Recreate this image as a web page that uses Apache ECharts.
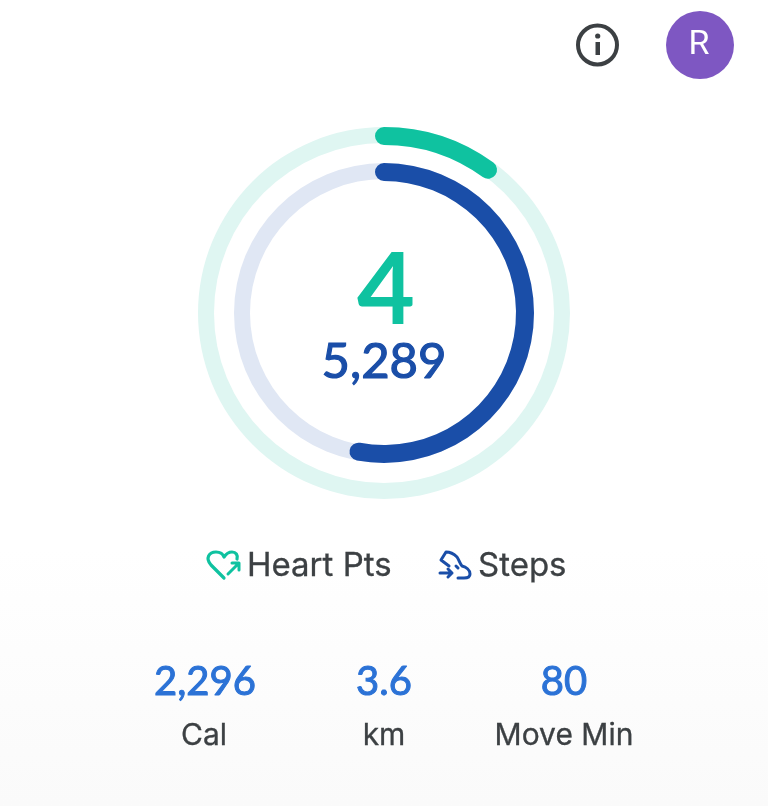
<!DOCTYPE html>
<html><head><meta charset="utf-8">
<style>html,body{margin:0;padding:0;background:#fff}#c{width:768px;height:806px}</style>
<script src="https://cdn.jsdelivr.net/npm/echarts@6/dist/echarts.min.js"></script>
</head><body><div id="c"></div>
<script>
const ringNames = ['Heart Pts', 'Steps'];
const ringValues = [4, 5289];
const ringGoals = [40, 10000];
const statValues = ['2,296', '3.6', '80'];
const statLabels = ['Cal', 'km', 'Move Min'];
const avatarLetter = 'R';

const FONT = 'Lato, "Open Sans", sans-serif';
const LABEL = 'Inter, Roboto, sans-serif';
const TEAL = '#0fc2a0', TEALT = '#dff6f2', BLUE = '#1a4ea8', BLUET = '#e0e7f4', INK = '#3c4043', STAT = '#2b72d6';
const statX = [205, 384, 564];

const icons = {
  heartOutline: 'M224 578 L211 565 C205 558 209 552 216 552 C220 552 223 554 224 557 C226 554 229 552 232 552 C236 552 238 555 237 559',
  heartArrow: 'M228 574 L238 564 M232 563 L239 563 L239 570',
  stepsOutline: 'M449 566 L441 560 L446 552 C450 552 454 554 457 557 C459 560 460 564 462 566 C466 567 470 570 470 574 C470 577 467 578 464 578 L458 578 M456 566 L458 568',
  stepsArrow: 'M440 573 L452 573 M448 569 L452 573 L448 577'
};
Object.keys(icons).forEach(k => echarts.graphic.registerShape(k, echarts.graphic.extendPath(icons[k], {})));

function ring(i, radius, trackW, progW, color, track, detail) {
  return {
    type: 'gauge', center: [384, 313], radius: radius, min: 0, max: ringGoals[i],
    startAngle: 90, endAngle: -270, clockwise: true, silent: true, z: 2 + i,
    axisLine: { roundCap: false, lineStyle: { width: trackW, color: [[1, track]] } },
    progress: { show: true, roundCap: true, width: progW, itemStyle: { color: color } },
    pointer: { show: false }, axisTick: { show: false }, splitLine: { show: false }, axisLabel: { show: false },
    anchor: { show: false }, title: { show: false },
    detail: detail,
    data: [{ value: ringValues[i], name: ringNames[i] }]
  };
}
const chart = echarts.init(document.getElementById('c'), null, { renderer: 'canvas' });
const statTexts = [];
statValues.forEach((v, i) => {
  statTexts.push({ type: 'text', x: statX[i], y: 682, style: { text: v, font: '400 40px ' + FONT, fill: STAT, stroke: STAT, lineWidth: 1, align: 'center', verticalAlign: 'middle' } });
  statTexts.push({ type: 'text', x: statX[i] - (i===0?1:0), y: 736, style: { text: statLabels[i], font: '400 30px ' + LABEL, fill: INK, stroke: INK, lineWidth: 0.3, align: 'center', verticalAlign: 'middle' } });
});
const iconStroke = (type, color, lw) => ({ type: type, style: { fill: 'none', stroke: color, lineWidth: lw, lineCap: 'round', lineJoin: 'round' } });
chart.setOption({
  animation: false,
  backgroundColor: {
    type: 'linear', x: 0, y: 0, x2: 0, y2: 1,
    colorStops: [{ offset: 0, color: '#ffffff' }, { offset: 0.68, color: '#ffffff' }, { offset: 1, color: '#fafafa' }]
  },
  series: [
    ring(0, 186, 16, 18, TEAL, TEALT, {
      show: true, valueAnimation: false, offsetCenter: [2, -21], fontSize: 100, fontWeight: 700, fontFamily: FONT, color: TEAL,
      formatter: v => String(v)
    }),
    ring(1, 150, 16, 18, BLUE, BLUET, {
      show: true, offsetCenter: [0, 49], fontSize: 49, fontWeight: 400, fontFamily: FONT, color: BLUE,
      textBorderColor: BLUE, textBorderWidth: 1.2,
      formatter: v => v.toLocaleString('en-US')
    })
  ],
  graphic: [
    { type: 'circle', shape: { cx: 597.5, cy: 45, r: 19.5 }, style: { fill: 'none', stroke: INK, lineWidth: 4 } },
    { type: 'rect', shape: { x: 595.5, y: 42, width: 4.5, height: 13 }, style: { fill: INK } },
    { type: 'circle', shape: { cx: 597.7, cy: 36, r: 2.6 }, style: { fill: INK } },
    { type: 'circle', shape: { cx: 700, cy: 45, r: 34 }, style: { fill: '#7e57c2' } },
    { type: 'text', x: 699, y: 45, style: { text: avatarLetter, font: '400 34px Roboto, sans-serif', fill: '#fff', align: 'center', verticalAlign: 'middle' } },
    iconStroke('heartOutline', TEAL, 3.2),
    iconStroke('heartArrow', TEAL, 3),
    { type: 'text', x: 247, y: 566, style: { text: ringNames[0], font: '400 33px ' + LABEL, fill: INK, stroke: INK, lineWidth: 0.3, align: 'left', verticalAlign: 'middle' } },
    iconStroke('stepsOutline', BLUE, 3),
    iconStroke('stepsArrow', BLUE, 3),
    { type: 'text', x: 478, y: 566, style: { text: ringNames[1], font: '400 33px ' + LABEL, fill: INK, stroke: INK, lineWidth: 0.3, align: 'left', verticalAlign: 'middle' } },
    ...statTexts
  ]
});
</script></body></html>
